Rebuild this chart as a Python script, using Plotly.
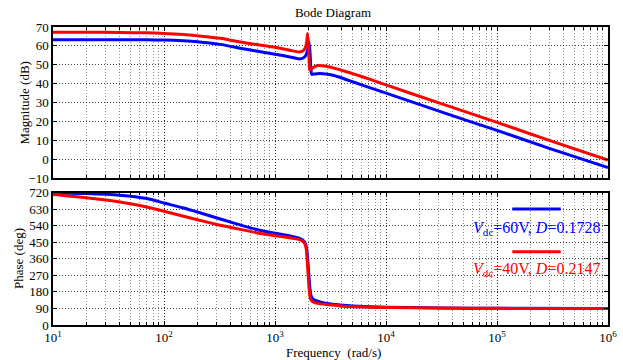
import plotly.graph_objects as go

# ---- Bode data for the two operating points ----
# V_dc = 60 V, D = 0.1728
freq_mag_60 = [10, 20, 40, 70, 100, 150, 200, 320, 550, 1000, 1400, 1650, 1800,
               1900, 1970, 2030, 2070, 2110, 2140, 2250, 2500, 3000, 3400, 4000,
               5000, 7000, 1e4, 3e4, 1e5, 3e5, 1e6]
mag_60 = [63.3, 63.3, 63.3, 63.2, 63.1, 62.7, 62.2, 60.8, 58.2, 55.6, 54.0, 53.1, 53.6,
          55.0, 58.0, 62.0, 56.0, 47.0, 44.9, 45.1, 45.4, 45.0, 44.3, 43.0,
          41.0, 38.0, 35.0, 25.4, 15.2, 5.6, -4.5]

freq_ph_60 = [10, 20, 40, 70, 100, 150, 200, 300, 400, 500, 700, 1000, 1300, 1600,
              1750, 1850, 1920, 1970, 2010, 2050, 2100, 2170, 2310, 2600, 2950,
              3870, 5000, 1e4, 3e4, 1e5, 1e6]
phase_60 = [718, 715, 706, 688, 664, 637, 615, 582, 560, 542, 518, 499, 487, 475,
            465, 452, 425, 360, 290, 220, 165, 145, 134, 124, 117,
            109, 104, 97, 93, 91, 90]

# V_dc = 40 V, D = 0.2147
freq_mag_40 = [10, 20, 40, 70, 100, 150, 200, 320, 550, 1000, 1400, 1650, 1780,
               1870, 1930, 1965, 2000, 2030, 2055, 2150, 2300, 2500, 2800, 3400,
               4000, 5000, 7000, 1e4, 3e4, 1e5, 3e5, 1e6]
mag_40 = [67.2, 67.2, 67.1, 66.9, 66.6, 66.0, 65.3, 64.0, 61.5, 59.3, 57.5, 56.8, 57.3,
          58.8, 62.0, 66.5, 61.0, 52.0, 47.3, 48.0, 49.2, 49.6, 49.3, 48.2,
          47.0, 45.3, 42.5, 39.3, 29.8, 19.5, 9.8, -0.5]

freq_ph_40 = [10, 20, 40, 70, 100, 150, 200, 300, 400, 500, 700, 1000, 1300, 1600,
              1750, 1850, 1910, 1950, 1990, 2030, 2080, 2150, 2310, 2600, 2950,
              3870, 5000, 1e4, 3e4, 1e5, 1e6]
phase_40 = [710, 692, 669, 642, 619, 592, 573, 547, 531, 519, 501, 486, 476, 467,
            458, 444, 415, 350, 270, 195, 145, 130, 121, 115, 111,
            104, 100, 95, 92, 90.5, 90]

x_tickvals = [1e1, 1e2, 1e3, 1e4, 1e5, 1e6]
x_ticktext = ["10<sup>%d</sup>" % k for k in range(1, 7)]
mag_ticks = list(range(-10, 71, 10))
phase_ticks = list(range(0, 721, 90))

BLUE = "#0000FF"
RED = "#FF0000"
SERIF = "Liberation Serif"

fig = go.Figure()
fig.add_trace(go.Scatter(x=freq_mag_60, y=mag_60, mode="lines",
                         line=dict(color=BLUE, width=3, shape="spline", smoothing=0.6),
                         xaxis="x", yaxis="y", showlegend=False))
fig.add_trace(go.Scatter(x=freq_mag_40, y=mag_40, mode="lines",
                         line=dict(color=RED, width=3, shape="spline", smoothing=0.6),
                         xaxis="x", yaxis="y", showlegend=False))
fig.add_trace(go.Scatter(x=freq_ph_60, y=phase_60, mode="lines",
                         line=dict(color=BLUE, width=3, shape="spline", smoothing=0.6),
                         xaxis="x2", yaxis="y2", showlegend=False))
fig.add_trace(go.Scatter(x=freq_ph_40, y=phase_40, mode="lines",
                         line=dict(color=RED, width=3, shape="spline", smoothing=0.6),
                         xaxis="x2", yaxis="y2", showlegend=False))

common_x = dict(type="log", range=[1, 6], automargin=False, showline=True,
                linecolor="black", linewidth=1.5,
                mirror="allticks", ticks="inside", ticklen=4, tickcolor="black",
                tickvals=x_tickvals, showgrid=True, gridcolor="rgba(0,0,0,0.75)",
                griddash="1px,2px", gridwidth=1, zeroline=False,
                minor=dict(ticks="inside", ticklen=3, tickcolor="black", showgrid=True,
                           gridcolor="rgba(0,0,0,0.45)", griddash="1px,2px", dtick="D1"),
                tickfont=dict(family=SERIF, size=13, color="black"))
common_y = dict(automargin=False, showline=True, linecolor="black", linewidth=1.5,
                mirror="allticks",
                ticks="inside", ticklen=4, tickcolor="black", showgrid=True,
                gridcolor="rgba(0,0,0,0.75)", griddash="1px,2px", gridwidth=1,
                zeroline=False, tickfont=dict(family=SERIF, size=13, color="black"))

fig.update_layout(
    width=623, height=360,
    margin=dict(l=53, r=15, t=27, b=35, autoexpand=False),
    font=dict(family=SERIF, size=13, color="black"),
    paper_bgcolor="white", plot_bgcolor="white",
    title=dict(text="Bode Diagram", x=333 / 623, xanchor="center",
               y=1 - 12.5 / 360, yanchor="middle",
               font=dict(family=SERIF, size=13, color="black")),
    xaxis=dict(anchor="y", showticklabels=False, **common_x),
    xaxis2=dict(anchor="y2", showticklabels=True, ticktext=x_ticktext, **common_x),
    yaxis=dict(domain=[0.4933, 1], range=[-10, 70], tickvals=mag_ticks, **common_y),
    yaxis2=dict(domain=[0, 0.444], range=[0, 720], tickvals=phase_ticks, **common_y),
)

annotations = [
    dict(text="Magnitude (dB)", xref="paper", yref="paper", x=-0.0505, y=0.7467,
         textangle=-90, showarrow=False, xanchor="center", yanchor="middle",
         font=dict(family=SERIF, size=13, color="black")),
    dict(text="Phase (deg)", xref="paper", yref="paper", x=-0.0610, y=0.222,
         textangle=-90, showarrow=False, xanchor="center", yanchor="middle",
         font=dict(family=SERIF, size=13, color="black")),
    dict(text="Frequency\u00a0 (rad/s)", xref="paper", yref="paper", x=0.505, y=-0.093,
         showarrow=False, xanchor="center", yanchor="middle",
         font=dict(family=SERIF, size=13, color="black")),
    dict(text="<i>V</i><sub>dc</sub>=60V, <i>D</i>=0.1728", xref="paper", yref="paper",
         x=0.989, y=0.3245, showarrow=False, xanchor="right", yanchor="middle",
         font=dict(family=SERIF, size=16, color=BLUE)),
    dict(text="<i>V</i><sub>dc</sub>=40V, <i>D</i>=0.2147", xref="paper", yref="paper",
         x=0.989, y=0.1846, showarrow=False, xanchor="right", yanchor="middle",
         font=dict(family=SERIF, size=16, color=RED)),
]
fig.update_layout(annotations=annotations)

# legend keys
fig.add_shape(type="line", xref="paper", yref="paper", x0=0.8276, x1=0.9148,
              y0=0.389, y1=0.389, line=dict(color=BLUE, width=3))
fig.add_shape(type="line", xref="paper", yref="paper", x0=0.8276, x1=0.9148,
              y0=0.246, y1=0.246, line=dict(color=RED, width=3))

fig.write_html("out.html")
